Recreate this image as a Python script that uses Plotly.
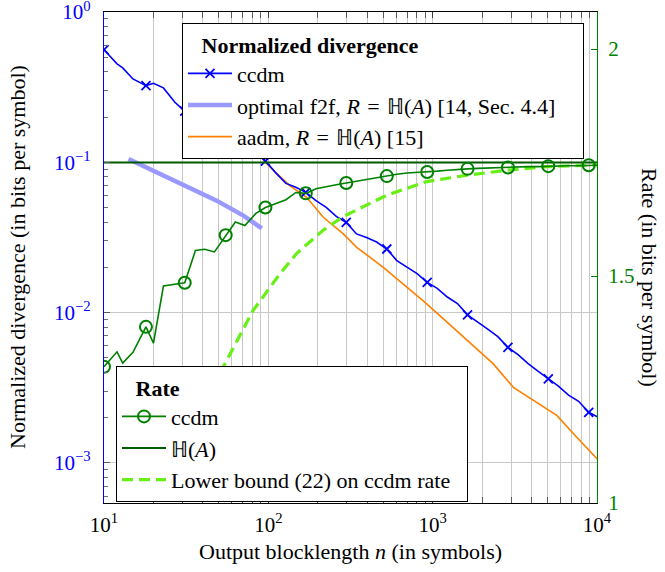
import plotly.graph_objects as go

# ---------------- data ----------------
n_ccdm = [10, 12, 13, 15, 18, 20, 23, 27, 31, 36, 41, 47, 55, 63, 72, 84, 96, 111, 128, 147,
          169, 195, 225, 259, 298, 344, 396, 456, 526, 605, 698, 804, 926, 1066, 1228, 1415,
          1630, 1878, 2163, 2492, 2871, 3307, 3810, 4389, 5056, 5825, 6710, 7730, 8905, 10259]

div_ccdm = [0.562, 0.452, 0.425, 0.359, 0.324, 0.336, 0.313, 0.251, 0.219, 0.209, 0.182, 0.170,
            0.158, 0.145, 0.129, 0.117, 0.102, 0.0851, 0.0724, 0.0682, 0.0631, 0.0556, 0.0501,
            0.0437, 0.0398, 0.0334, 0.0316, 0.0295, 0.0265, 0.0222, 0.0200, 0.0182, 0.0159,
            0.0145, 0.0127, 0.0115, 0.00966, 0.00871, 0.00776, 0.00692, 0.00587, 0.00525,
            0.00457, 0.00407, 0.00362, 0.00324, 0.00282, 0.00257, 0.00217, 0.00200]

rate_ccdm = [1.300, 1.333, 1.308, 1.332, 1.388, 1.352, 1.478, 1.481, 1.485, 1.556, 1.559, 1.553,
             1.590, 1.619, 1.611, 1.638, 1.651, 1.660, 1.668, 1.684, 1.682, 1.692, 1.697, 1.701,
             1.705, 1.709, 1.713, 1.717, 1.720, 1.724, 1.727, 1.728, 1.729, 1.731, 1.733, 1.735,
             1.736, 1.737, 1.738, 1.738, 1.739, 1.740, 1.741, 1.741, 1.742, 1.742, 1.743, 1.743,
             1.744, 1.744]

n_f2f = [14.1, 19, 30.4, 48.5, 70.5, 91.3]
div_f2f = [0.1054, 0.0904, 0.0718, 0.0556, 0.0442, 0.0364]

n_aadm = [70, 81, 98, 135, 171, 216, 286, 345, 501, 920, 1468, 2340, 3097, 4100, 5690, 7530, 10070]
div_aadm = [0.145, 0.125, 0.0975, 0.0700, 0.0585, 0.0431, 0.0334, 0.0272, 0.0200, 0.01143,
            0.00721, 0.00456, 0.00318, 0.00260, 0.00207, 0.00148, 0.00106]

n_bound = [25, 27.9, 38, 53.2, 81.1, 115, 149, 216, 286, 415, 526, 921, 1614, 2826, 4955, 9508, 10500]
rate_bound = [0.97, 1.003, 1.17, 1.300, 1.425, 1.500, 1.550, 1.601, 1.631, 1.660, 1.678, 1.708,
              1.722, 1.733, 1.741, 1.744, 1.745]

n_entropy = [10, 10000]
rate_entropy = [1.75, 1.75]

marker_every = 4

x_tickvals = [10, 100, 1000, 10000]
x_ticktext = ["10<sup>1</sup>", "10<sup>2</sup>", "10<sup>3</sup>", "10<sup>4</sup>"]
y_tickvals = [0.001, 0.01, 0.1, 1]
y_ticktext = ["10<sup>−3</sup>", "10<sup>−2</sup>", "10<sup>−1</sup>", "10<sup>0</sup>"]
y2_tickvals = [1, 1.5, 2]
y2_ticktext = ["1", "1.5", "2"]

# ---------------- style ----------------
FONT = "Liberation Serif, Times New Roman, serif"
FS = 22
TFS = 21
BLUE = "#0000ff"
LAV = "rgb(153,153,255)"
ORANGE = "rgb(255,128,0)"
GREEN = "rgb(0,128,0)"
DKGREEN = "rgb(0,90,0)"
LIME = "rgb(102,240,20)"
GRID = "rgb(200,200,200)"
EQ = "\u2004=\u2004"
IND = "\u00a0\u00a0\u00a0"
PAD = "\u00a0\u00a0\u00a0\u00a0"
PAD2 = "\u00a0\u00a0"

minor_x = [d * 10 ** e for e in range(1, 4) for d in range(2, 10)]
minor_y = [d * 10.0 ** e for e in range(-4, 0) for d in range(2, 10)]

fig = go.Figure()

mk_n = n_ccdm[::marker_every]
mk_div = div_ccdm[::marker_every]
mk_rate = rate_ccdm[::marker_every]

# --- divergence (left axis) ---
fig.add_trace(go.Scatter(x=n_f2f, y=div_f2f, mode="lines", line=dict(color=LAV, width=4.5),
                         showlegend=False, hoverinfo="skip"))
fig.add_trace(go.Scatter(x=n_aadm, y=div_aadm, mode="lines", line=dict(color=ORANGE, width=1.6),
                         showlegend=False, hoverinfo="skip"))
fig.add_trace(go.Scatter(x=n_ccdm, y=div_ccdm, mode="lines", line=dict(color=BLUE, width=1.6),
                         showlegend=False, hoverinfo="skip"))
fig.add_trace(go.Scatter(x=mk_n, y=mk_div, mode="markers",
                         marker=dict(symbol="x-thin", size=9, line=dict(color=BLUE, width=1.8)),
                         showlegend=False, hoverinfo="skip"))

# --- rate (right axis) ---
fig.add_trace(go.Scatter(x=n_entropy, y=rate_entropy, yaxis="y2", mode="lines",
                         line=dict(color=DKGREEN, width=2), showlegend=False, hoverinfo="skip"))
fig.add_trace(go.Scatter(x=n_bound, y=rate_bound, yaxis="y2", mode="lines",
                         line=dict(color=LIME, width=3.2, dash="11px,6px"),
                         showlegend=False, hoverinfo="skip"))
fig.add_trace(go.Scatter(x=n_ccdm, y=rate_ccdm, yaxis="y2", mode="lines",
                         line=dict(color=GREEN, width=1.6), showlegend=False, hoverinfo="skip"))
fig.add_trace(go.Scatter(x=mk_n, y=mk_rate, yaxis="y2", mode="markers",
                         marker=dict(symbol="circle-open", size=12, color=GREEN,
                                     line=dict(color=GREEN, width=2)),
                         showlegend=False, hoverinfo="skip"))

# --- legend entries ---
def leg(name, legend, **kw):
    fig.add_trace(go.Scatter(x=[None], y=[None], name=name, legend=legend, **kw))

leg("ccdm", "legend", mode="lines+markers", line=dict(color=BLUE, width=1.6),
    marker=dict(symbol="x-thin", size=9, line=dict(color=BLUE, width=1.8)))
leg("optimal f2f, <i>R</i>" + EQ + "ℍ(<i>A</i>) [14, Sec. 4.4]" + PAD, "legend", mode="lines",
    line=dict(color=LAV, width=4.5))
leg("aadm, <i>R</i>" + EQ + "ℍ(<i>A</i>) [15]", "legend", mode="lines",
    line=dict(color=ORANGE, width=1.6))

leg("ccdm", "legend2", mode="lines+markers", line=dict(color=GREEN, width=1.6),
    marker=dict(symbol="circle-open", size=12, color=GREEN, line=dict(color=GREEN, width=2)))
leg("ℍ(<i>A</i>)", "legend2", mode="lines", line=dict(color=DKGREEN, width=2))
leg("Lower bound (22) on ccdm rate" + PAD2, "legend2", mode="lines",
    line=dict(color=LIME, width=3.2, dash="11px,6px"))

# plot area in page pixels: x 104..597, y 12..503 (body margin removed below)
W, H = 665, 572
PL, PR, PT, PB = 104, 597, 12, 503
L, T, R, B = PL, PT, W - PR, H - PB
pw, ph = PR - PL, PB - PT

def px(x):
    return (x - PL) / pw

def py(y):
    return (PB - y) / ph

legend_common = dict(bgcolor="white", bordercolor="black", borderwidth=1,
                     font=dict(family=FONT, size=FS, color="black"),
                     xanchor="left", yanchor="top", itemwidth=44, tracegroupgap=0,
                     itemclick=False)

fig.update_layout(
    width=W, height=H,
    margin=dict(l=L, r=R, t=T, b=B, autoexpand=False),
    paper_bgcolor="white", plot_bgcolor="white",
    font=dict(family=FONT, size=FS, color="black"),
    xaxis=dict(type="log", range=[1, 4], tickmode="array", tickvals=x_tickvals, ticktext=x_ticktext,
               ticks="inside", ticklen=6, tickcolor="rgb(60,60,60)", ticklabelstandoff=3,
               ticklabeloverflow="allow", automargin=False,
               showline=True, linecolor="black", linewidth=1.2, mirror="allticks",
               showgrid=True, gridcolor=GRID, gridwidth=1,
               minor=dict(tickmode="array", tickvals=minor_x, ticks="inside", ticklen=4,
                          tickcolor="rgb(90,90,90)", showgrid=True, gridcolor=GRID, gridwidth=1),
               tickfont=dict(family=FONT, size=TFS, color="black"), zeroline=False),
    yaxis=dict(type="log", range=[-3.267, 0.0005], tickmode="array", tickvals=y_tickvals,
               ticktext=y_ticktext, ticks="inside", ticklen=6, tickcolor="rgb(90,90,90)",
               ticklabelstandoff=8, ticklabeloverflow="allow", automargin=False,
               showline=True, linecolor=BLUE, linewidth=1.2,
               showgrid=True, gridcolor=GRID, gridwidth=1,
               minor=dict(tickmode="array", tickvals=minor_y, ticks="inside", ticklen=4,
                          tickcolor="rgb(110,110,110)", showgrid=False),
               tickfont=dict(family=FONT, size=TFS, color=BLUE), zeroline=False),
    yaxis2=dict(overlaying="y", side="right", range=[1, 2.0815], tickmode="array",
                tickvals=y2_tickvals, ticktext=y2_ticktext, ticklabeloverflow="allow",
                automargin=False,
                ticks="inside", ticklen=6, tickcolor=GREEN, ticklabelstandoff=6,
                showline=True, linecolor=GREEN, linewidth=1.2, showgrid=False, zeroline=False,
                tickfont=dict(family=FONT, size=TFS, color=GREEN)),
    legend=dict(x=px(182), y=py(23), title=dict(text=IND + "<b>Normalized divergence</b>",
                                               font=dict(family=FONT, size=FS)), **legend_common),
    legend2=dict(x=px(116), y=py(366), title=dict(text=IND + "<b>Rate</b>",
                                                 font=dict(family=FONT, size=FS)), **legend_common),
    annotations=[
        dict(text="Output blocklength <i>n</i> (in symbols)", xref="paper", yref="paper",
             x=px(350), y=py(551), xanchor="center", yanchor="middle", showarrow=False,
             font=dict(family=FONT, size=FS)),
        dict(text="Normalized divergence (in bits per symbol)", xref="paper", yref="paper",
             x=px(17), y=py(257), xanchor="center", yanchor="middle", showarrow=False,
             textangle=-90, font=dict(family=FONT, size=FS)),
        dict(text="Rate (in bits per symbol)", xref="paper", yref="paper",
             x=px(650), y=py(277), xanchor="center", yanchor="middle", showarrow=False,
             textangle=90, font=dict(family=FONT, size=FS)),
    ],
    showlegend=True,
)

fig.write_html("out.html", config={"displayModeBar": False},
               post_script="document.body.style.margin='0px';"
                           "document.body.style.overflow='hidden';")
